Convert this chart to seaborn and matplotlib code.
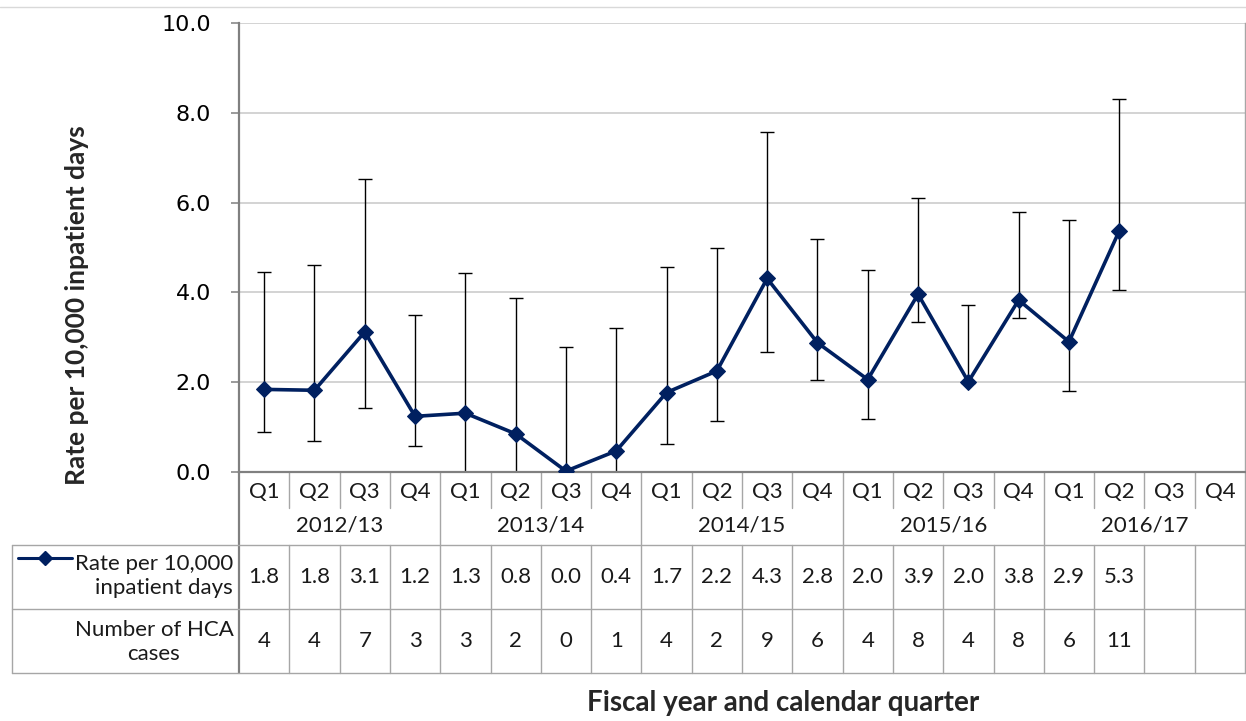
import matplotlib
matplotlib.use("Agg")
import matplotlib.pyplot as plt
import seaborn as sns
import pandas as pd
import numpy as np
from matplotlib.lines import Line2D

# ---------------- data ----------------
years = ["2012/13", "2013/14", "2014/15", "2015/16", "2016/17"]
quarters = ["Q1", "Q2", "Q3", "Q4"]
rate = [1.84, 1.82, 3.12, 1.24, 1.31, 0.85, 0.02, 0.47, 1.77, 2.25,
        4.31, 2.88, 2.06, 3.96, 2.01, 3.83, 2.90, 5.37]
upper = [4.46, 4.60, 6.52, 3.49, 4.44, 3.87, 2.79, 3.20, 4.57, 5.00,
         7.58, 5.19, 4.49, 6.11, 3.73, 5.79, 5.61, 8.30]
lower = [0.89, 0.68, 1.43, 0.59, 0.0, 0.0, 0.0, 0.0, 0.62, 1.14,
         2.68, 2.06, 1.19, 3.33, 1.98, 3.43, 1.81, 4.06]
rate_labels = ["1.8", "1.8", "3.1", "1.2", "1.3", "0.8", "0.0", "0.4", "1.7", "2.2",
               "4.3", "2.8", "2.0", "3.9", "2.0", "3.8", "2.9", "5.3", "", ""]
cases = ["4", "4", "7", "3", "3", "2", "0", "1", "4", "2",
         "9", "6", "4", "8", "4", "8", "6", "11", "", ""]
yticks = [0, 2, 4, 6, 8, 10]

navy = "#002060"
grid_c = "#C8C8C8"
tab_c = "#A6A6A6"
txt_c = "#1a1a1a"

n_all = len(years) * len(quarters)
df = pd.DataFrame({"pos": np.arange(len(rate)), "rate": rate})

sns.set_theme(style="white")
plt.rcParams["font.family"] = ["DejaVu Sans"]

W, H = 1246, 721
fig = plt.figure(figsize=(W / 100, H / 100), dpi=100)
L, R, T, B = 239, 1245, 23, 472
ax = fig.add_axes([L / W, 1 - B / H, (R - L) / W, (B - T) / H])

# error bars
err = np.array([np.array(rate) - np.array(lower), np.array(upper) - np.array(rate)])
ax.errorbar(df["pos"], df["rate"], yerr=err, fmt="none", ecolor="black",
            elinewidth=1.0, capsize=5, capthick=1.0, zorder=2)
sns.lineplot(data=df, x="pos", y="rate", ax=ax, color=navy, linewidth=2.6,
             marker="D", markersize=8, markeredgecolor=navy, zorder=3)

ax.set_xlim(-0.5, n_all - 0.5)
ax.set_ylim(0, 10)
ax.set_yticks(yticks)
ax.set_yticklabels([f"{v:.1f}" for v in yticks], fontsize=16, color="black")
ax.set_xticks([])
ax.set_xlabel("")
ax.grid(axis="y", color=grid_c, linewidth=1.1)
ax.tick_params(axis="y", length=6, width=1.1, color="#808080", pad=14, left=True)
ax.spines["top"].set_visible(False)
ax.spines["left"].set_color("#808080")
ax.spines["left"].set_linewidth(1.6)
ax.spines["bottom"].set_color("#808080")
ax.spines["bottom"].set_linewidth(1.6)
ax.spines["right"].set_color(tab_c)
ax.spines["right"].set_linewidth(1.0)

ax.set_ylabel("Rate per 10,000 inpatient days", fontsize=19, fontweight="bold",
              family=["Lato", "DejaVu Sans"])
ax.yaxis.set_label_coords((89 - L) / (R - L), (B - 305) / (B - T))

# ---------------- table below ----------------
tr = ax.get_xaxis_transform()
def yax(py):
    return (B - py) / (B - T)

col_w = (R - L) / n_all
x_left = -0.5 - (L - 12) / col_w
xr = n_all - 0.5
def xpx(px):
    return -0.5 + (px - L) / col_w

def hline(py, x0, x1):
    ax.add_line(Line2D([x0, x1], [yax(py)] * 2, transform=tr, color=tab_c,
                       linewidth=1.0, clip_on=False))

def vline(x, py0, py1, c=tab_c, lw=1.0):
    ax.add_line(Line2D([x, x], [yax(py0), yax(py1)], transform=tr, color=c,
                       linewidth=lw, clip_on=False))

Y_Q, Y_YR, Y_RATE, Y_CASE = 492, 525, 577, 641
ROW1, ROW2, ROW3, QSEP = 545, 609, 673, 508

tfont = ["Lato", "DejaVu Sans"]
fs = 16
for i in range(n_all):
    q = quarters[i % 4]
    ax.text(i, yax(Y_Q), q, transform=tr, ha="center", va="center",
            fontsize=fs, family=tfont, color=txt_c)
    ax.text(i, yax(Y_RATE), rate_labels[i], transform=tr, ha="center", va="center",
            fontsize=fs, family=tfont, color=txt_c)
    ax.text(i, yax(Y_CASE), cases[i], transform=tr, ha="center", va="center",
            fontsize=fs, family=tfont, color=txt_c)
for k, y in enumerate(years):
    ax.text(4 * k + 1.5, yax(Y_YR), y, transform=tr, ha="center", va="center",
            fontsize=fs, family=tfont, color=txt_c)

# vertical separators
for i in range(n_all + 1):
    x = i - 0.5
    if i % 4 == 0:
        vline(x, B, ROW3, c=("#808080" if i == 0 else tab_c), lw=(1.6 if i == 0 else 1.0))
    else:
        vline(x, B, QSEP)
        vline(x, ROW1, ROW3)
vline(x_left, ROW1, ROW3)
hline(ROW1, x_left, xr)
hline(ROW2, x_left, xr)
hline(ROW3, x_left, xr)

# legend key in table
ax.add_line(Line2D([xpx(18), xpx(72)], [yax(558)] * 2, transform=tr,
                   color=navy, linewidth=2.2, clip_on=False))
ax.plot([xpx(45)], [yax(558)], transform=tr, marker="D", markersize=7,
        color=navy, clip_on=False)
ax.text(xpx(154), yax(576), "Rate per 10,000\ninpatient days", transform=tr,
        ha="center", va="center", fontsize=fs, family=tfont, color=txt_c,
        linespacing=1.2, multialignment="right")
ax.text(xpx(154), yax(642), "Number of HCA\ncases", transform=tr,
        ha="center", va="center", fontsize=fs, family=tfont, color=txt_c,
        linespacing=1.2, multialignment="center")

fig.text(783 / W, 1 - 703 / H, "Fiscal year and calendar quarter", ha="center",
         va="center", fontsize=20, fontweight="bold", family=tfont)

fig.add_artist(Line2D([0, 1], [1 - 7 / H] * 2, transform=fig.transFigure,
                      color="#D9D9D9", linewidth=1.0))

fig.savefig("out.png", dpi=100)
